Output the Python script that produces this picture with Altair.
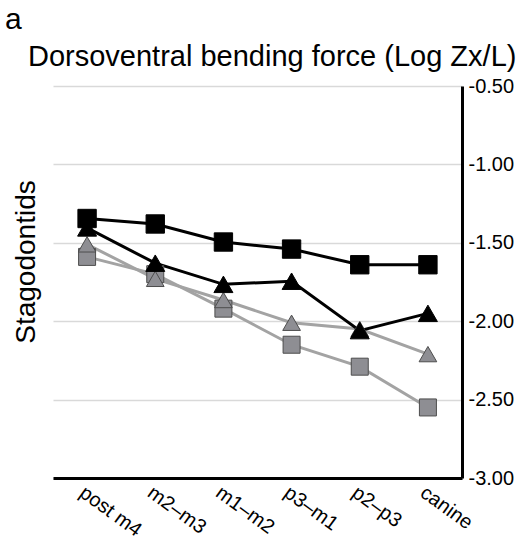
import altair as alt
import pandas as pd

categories = ["post m4", "m2\u2013m3", "m1\u2013m2", "p3\u2013m1", "p2\u2013p3", "canine"]
series_names = ["gray squares", "gray triangles", "black squares", "black triangles"]
gray_squares = [-1.59, -1.70, -1.92, -2.15, -2.29, -2.55]
gray_triangles = [-1.51, -1.73, -1.865, -2.01, -2.05, -2.21]
black_squares = [-1.345, -1.38, -1.495, -1.54, -1.64, -1.64]
black_triangles = [-1.405, -1.63, -1.765, -1.745, -2.06, -1.95]
y_ticks = [-3.0, -2.5, -2.0, -1.5, -1.0, -0.5]

rows = []
for name, vals in zip(series_names, [gray_squares, gray_triangles, black_squares, black_triangles]):
    for i, (c, v) in enumerate(zip(categories, vals)):
        rows.append({"series": name, "cat": c, "value": v, "idx": i})
df = pd.DataFrame(rows)

FONT = "Liberation Sans"
W, H = 409, 392

x_enc = alt.X(
    "cat:N",
    sort=categories,
    scale=alt.Scale(type="point", padding=0.5),
    axis=alt.Axis(
        title=None, domain=True, domainColor="black", domainWidth=3, ticks=False, grid=False,
        labelAngle=36, labelAlign="left", labelBaseline="top", labelFontSize=20,
        labelFont=FONT, labelColor="black", labelPadding=4,
    ),
)
y_enc = alt.Y(
    "value:Q",
    scale=alt.Scale(domain=[-3.0, -0.5], nice=False, zero=False),
    axis=alt.Axis(
        orient="right", title=None, values=y_ticks, domain=True, domainColor="black",
        domainWidth=3, ticks=False, grid=True, gridColor="#d9d9d9", gridWidth=1.5,
        labelExpr="replace(format(datum.value, '.2f'), '\u2212', '-')",
        labelFontSize=20, labelFont=FONT, labelColor="black", labelPadding=6,
    ),
)

line_colors = ["#a3a3a3", "#a3a3a3", "#000000", "#000000"]
fill_colors = ["#8e8e93", "#8e8e93", "#000000", "#000000"]
stroke_colors = ["#4d4d4d", "#4d4d4d", "#000000", "#000000"]
shapes = ["square", "triangle-up", "square", "triangle-up"]
sizes = [289, 361, 289, 361]

lines = alt.Chart(df).mark_line(strokeWidth=3).encode(
    x=x_enc, y=y_enc,
    color=alt.Color("series:N", scale=alt.Scale(domain=series_names, range=line_colors), legend=None),
    order=alt.Order("idx:Q"),
)
points = alt.Chart(df).mark_point(filled=True, opacity=1, strokeWidth=1).encode(
    x=x_enc, y=y_enc,
    fill=alt.Fill("series:N", scale=alt.Scale(domain=series_names, range=fill_colors), legend=None),
    stroke=alt.Stroke("series:N", scale=alt.Scale(domain=series_names, range=stroke_colors), legend=None),
    shape=alt.Shape("series:N", scale=alt.Scale(domain=series_names, range=shapes), legend=None),
    size=alt.Size("series:N", scale=alt.Scale(domain=series_names, range=sizes), legend=None),
)

texts = pd.DataFrame({"t": ["a", "Dorsoventral bending force (Log Zx/L)", "Stagodontids"]})
panel_label = alt.Chart(texts.iloc[[0]]).mark_text(
    align="left", baseline="alphabetic", fontSize=30, font=FONT, color="black"
).encode(text="t:N", x=alt.value(-48), y=alt.value(-57))
title_text = alt.Chart(texts.iloc[[1]]).mark_text(
    align="left", baseline="alphabetic", fontSize=29, font=FONT, color="black"
).encode(text="t:N", x=alt.value(-25), y=alt.value(-20))
y_title = alt.Chart(texts.iloc[[2]]).mark_text(
    align="center", baseline="middle", angle=270, fontSize=28, font=FONT, color="black"
).encode(text="t:N", x=alt.value(-26), y=alt.value(176))

chart = alt.layer(lines, points, panel_label, title_text, y_title).properties(
    width=W, height=H,
    autosize=alt.AutoSizeParams(type="none"),
    padding={"left": 53, "top": 86, "right": 67, "bottom": 69},
    background="white",
).configure_view(stroke=None)

chart.save("out.html", embed_options={"renderer": "svg", "actions": False})
